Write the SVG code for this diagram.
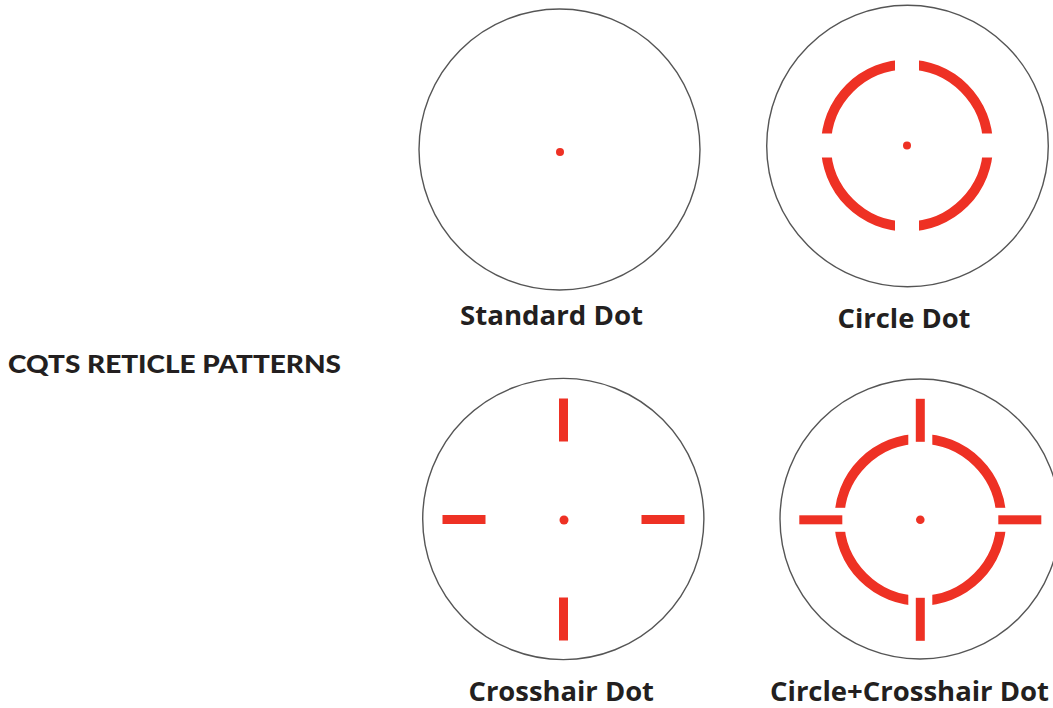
<svg xmlns="http://www.w3.org/2000/svg" width="1053" height="708" viewBox="0 0 1053 708">
<style>
.scope{fill:none;stroke:#555;stroke-width:1.4}
.red{fill:#ee3124}
.ring{fill:none;stroke:#ee3124;stroke-width:10}
.lbl{font-family:"Open Sans","Noto Sans","Liberation Sans",sans-serif;font-weight:700;font-size:27px;fill:#231f20;text-anchor:start}
.lbl2{font-size:26px}
.title{font-family:"Lato","Liberation Sans",sans-serif;font-weight:900;font-size:25px;fill:#231f20}
</style>
<defs>
<mask id="gaps" maskUnits="userSpaceOnUse" x="-100" y="-100" width="200" height="200">
<rect x="-100" y="-100" width="200" height="200" fill="#fff"/>
<rect x="-12" y="-100" width="24" height="200" fill="#000"/>
<rect x="-100" y="-12" width="200" height="24" fill="#000"/>
</mask>
</defs>
<rect width="1053" height="708" fill="#fff"/>
<text class="title" x="8" y="373" textLength="333" lengthAdjust="spacingAndGlyphs">CQTS RETICLE PATTERNS</text>

<g id="standard-dot">
<circle class="scope" cx="559.5" cy="149.5" r="140.5"/>
<circle class="red" cx="560" cy="152" r="4"/>
<text class="lbl" x="460" y="325" textLength="183" lengthAdjust="spacingAndGlyphs">Standard Dot</text>
</g>

<g id="circle-dot">
<circle class="scope" cx="907.5" cy="146" r="140.8"/>
<g transform="translate(907,145.5)">
<circle class="ring" cx="0" cy="0" r="81" mask="url(#gaps)"/>
<circle class="red" cx="0" cy="0" r="4"/>
</g>
<text class="lbl" x="837.5" y="328" textLength="133" lengthAdjust="spacingAndGlyphs">Circle Dot</text>
</g>

<g id="crosshair-dot">
<circle class="scope" cx="563.3" cy="519" r="140.6"/>
<g transform="translate(563.5,519.5)">
<rect class="red" x="-4.5" y="-121" width="9" height="43"/>
<rect class="red" x="-4.5" y="78" width="9" height="43"/>
<rect class="red" x="-121" y="-4.5" width="43" height="9"/>
<rect class="red" x="78" y="-4.5" width="43" height="9"/>
<circle class="red" cx="0.5" cy="0.5" r="4.5"/>
</g>
<text class="lbl lbl2" x="468.5" y="701" textLength="185.5" lengthAdjust="spacingAndGlyphs">Crosshair Dot</text>
</g>

<g id="circle-crosshair-dot">
<circle class="scope" cx="920" cy="519" r="140"/>
<g transform="translate(920.3,519.8)">
<circle class="ring" cx="0" cy="0" r="81" mask="url(#gaps)"/>
<rect class="red" x="-4.5" y="-121" width="9" height="43"/>
<rect class="red" x="-4.5" y="78" width="9" height="43"/>
<rect class="red" x="-121" y="-4.5" width="43" height="9"/>
<rect class="red" x="78" y="-4.5" width="43" height="9"/>
<circle class="red" cx="0" cy="0" r="4.3"/>
</g>
<text class="lbl lbl2" x="770" y="701" textLength="279" lengthAdjust="spacingAndGlyphs">Circle+Crosshair Dot</text>
</g>

<g id="connectors"/>
</svg>
